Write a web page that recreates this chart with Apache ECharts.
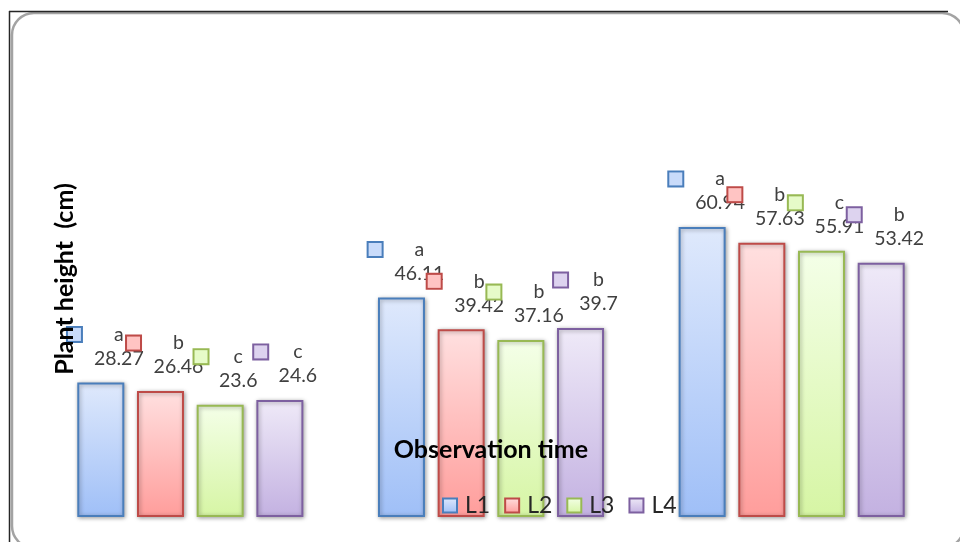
<!DOCTYPE html>
<html>
<head>
<meta charset="utf-8">
<script src="https://cdn.jsdelivr.net/npm/echarts@6/dist/echarts.min.js"></script>
<style>
  html, body { margin: 0; padding: 0; background: #ffffff; }
  #chart { width: 960px; height: 542px; }
</style>
</head>
<body>
<div id="chart"></div>
<script>
// Observation times (category axis) and line names
const categories = ['T1', 'T2', 'T3'];
const lineNames = ['L1', 'L2', 'L3', 'L4'];

// Plant height (cm) per line at each observation time
const L1 = [28.27, 46.11, 60.94];
const L2 = [26.46, 39.42, 57.63];
const L3 = [23.6, 37.16, 55.91];
const L4 = [24.6, 39.7, 53.42];

// Significance letters shown above each value
const L1Letters = ['a', 'a', 'a'];
const L2Letters = ['b', 'b', 'b'];
const L3Letters = ['c', 'b', 'c'];
const L4Letters = ['c', 'b', 'b'];

const values = [L1, L2, L3, L4];
const letters = [L1Letters, L2Letters, L3Letters, L4Letters];

// Fill gradients (top, bottom) and outline colours for each line
const palette = [
  { top: '#dfe9fc', bottom: '#9fbff7', key: '#c9dbfa', line: '#4a7ebb' },
  { top: '#ffe0e0', bottom: '#ff9d9b', key: '#ffc4c3', line: '#be4b48' },
  { top: '#f4ffe8', bottom: '#d6f5a4', key: '#e6fbc8', line: '#98b954' },
  { top: '#efeaf8', bottom: '#c3b1e1', key: '#ddd3ef', line: '#7d60a0' }
];

const FONT = 'Lato, "Open Sans", sans-serif';

function makeSeries(i) {
  const c = palette[i];
  const vals = values[i];
  const lets = letters[i];
  return {
    name: lineNames[i],
    type: 'bar',
    data: vals,
    barWidth: 47,
    barGap: '27%',
    itemStyle: {
      color: new echarts.graphic.LinearGradient(0, 0, 0, 1, [
        { offset: 0, color: c.top },
        { offset: 1, color: c.bottom }
      ]),
      borderColor: c.line,
      borderWidth: 2,
      shadowBlur: 4,
      shadowColor: 'rgba(0,0,0,0.35)',
      shadowOffsetX: 1,
      shadowOffsetY: 1
    },
    label: {
      show: true,
      position: 'top',
      distance: 12,
      offset: [18, 0],
      align: 'center',
      formatter: function (p) {
        const v = String(vals[p.dataIndex]);
        const k = v.length >= 5 ? '5' : '4';
        return '{sq|}{p' + k + '|}{let|' + lets[p.dataIndex] + '}{q' + k + '|}\n{val|' + v + '}';
      },
      rich: {
        sq: {
          width: 13, height: 13, lineHeight: 24,
          backgroundColor: c.key,
          borderColor: c.line,
          borderWidth: 2
        },
        p5: { width: 33, lineHeight: 24 },
        q5: { width: 46, lineHeight: 24 },
        p4: { width: 26, lineHeight: 24 },
        q4: { width: 39, lineHeight: 24 },
        let: { fontFamily: FONT, fontSize: 19.5, color: '#404040', lineHeight: 24 },
        val: { fontFamily: FONT, fontSize: 19.5, color: '#404040', lineHeight: 24 }
      }
    },
    z: 3
  };
}

const chart = echarts.init(document.getElementById('chart'), null, { renderer: 'canvas' });

chart.setOption({
  animation: false,
  backgroundColor: '#ffffff',
  textStyle: { fontFamily: FONT },
  grid: { left: 40, width: 902, top: 41, height: 476 },
  xAxis: {
    type: 'category',
    data: categories,
    axisLine: { show: false },
    axisTick: { show: false },
    axisLabel: { show: false },
    splitLine: { show: false },
    name: 'Observation time',
    nameLocation: 'middle',
    nameGap: -80,
    nameTextStyle: { fontFamily: FONT, fontSize: 25, fontWeight: 'bold', color: '#000000' },
    z: 10
  },
  yAxis: {
    type: 'value',
    min: 0,
    max: 100,
    axisLine: { show: false },
    axisTick: { show: false },
    axisLabel: { show: false },
    splitLine: { show: false },
    name: 'Plant height  (cm)',
    nameLocation: 'middle',
    nameGap: -37,
    nameTextStyle: { fontFamily: FONT, fontSize: 25, fontWeight: 'bold', color: '#000000' },
    z: 10
  },
  legend: {
    data: lineNames,
    left: 437,
    top: 489,
    icon: 'rect',
    itemWidth: 14,
    itemHeight: 14,
    itemGap: 14,
    textStyle: { fontFamily: FONT, fontSize: 23, color: '#262626', padding: [0, 0, 0, 3] }
  },
  graphic: [
    {
      type: 'rect',
      silent: true,
      shape: { x: 12, y: 13, width: 952, height: 535, r: 22 },
      style: { fill: 'none', stroke: '#a3a3a3', lineWidth: 2.5 },
      z: -1
    },
    {
      type: 'line',
      silent: true,
      shape: { x1: 9, y1: 11.5, x2: 948, y2: 11.5 },
      style: { stroke: '#262626', lineWidth: 1.5 },
      z: -1
    },
    {
      type: 'line',
      silent: true,
      shape: { x1: 9.5, y1: 11, x2: 9.5, y2: 542 },
      style: { stroke: '#262626', lineWidth: 1.5 },
      z: -1
    }
  ],
  series: [0, 1, 2, 3].map(makeSeries)
});
</script>
</body>
</html>
